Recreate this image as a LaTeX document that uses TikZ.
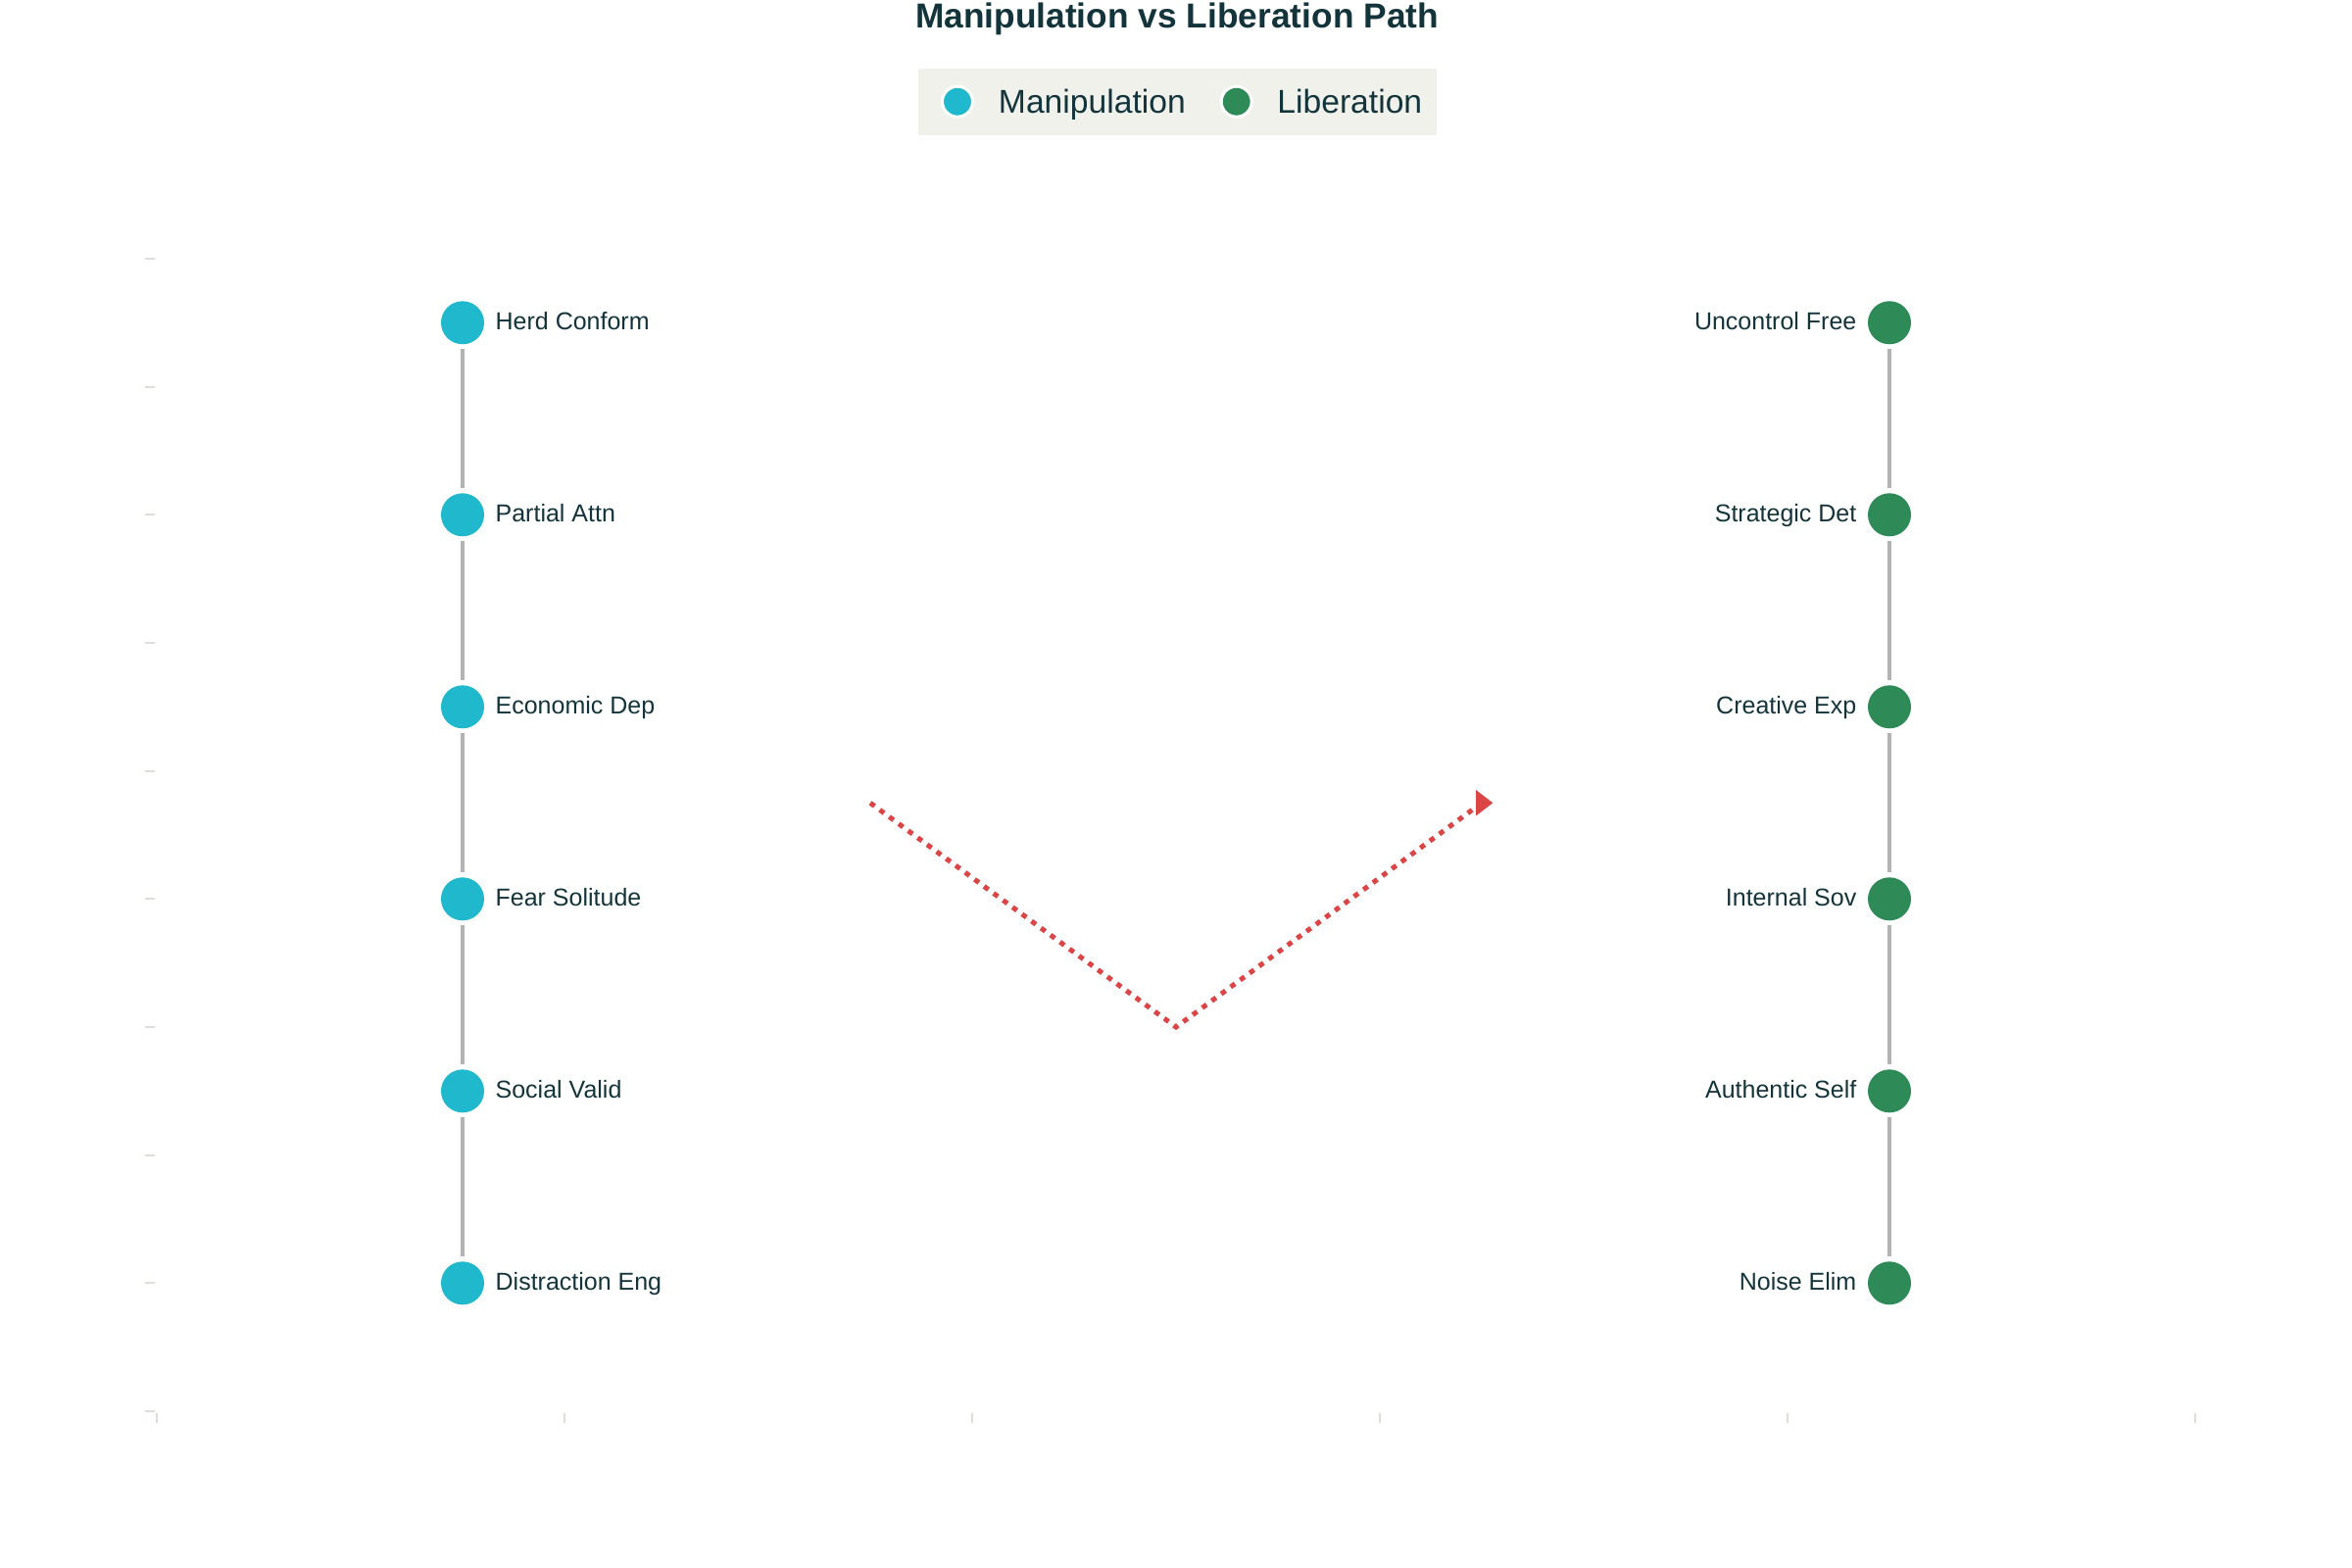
\documentclass[tikz,border=0pt]{standalone}
\usepackage{fontspec}
\setmainfont{Liberation Sans}
\definecolor{manip}{HTML}{1FB8CD}
\definecolor{libc}{HTML}{2E8B57}
\definecolor{txt}{HTML}{13343B}
\definecolor{connc}{HTML}{B3B3B3}
\definecolor{tickc}{HTML}{E0DCD8}
\definecolor{routec}{HTML}{DB4545}
\definecolor{legbg}{HTML}{F1F1EC}
\begin{document}
\begin{tikzpicture}[x=0.3pt,y=-0.3pt,
  dotm/.style={circle,fill=manip,inner sep=0pt,outer sep=0pt,minimum size=13.2pt},
  dotl/.style={circle,fill=libc,inner sep=0pt,outer sep=0pt,minimum size=13.2pt},
  legdot/.style={circle,draw=white,line width=0.9pt,inner sep=0pt,minimum size=9.3pt},
  lbl/.style={text=txt,font=\fontsize{7.5pt}{9pt}\selectfont,inner sep=0pt},
  leglbl/.style={text=txt,font=\fontsize{10.1pt}{12pt}\selectfont,inner sep=0pt,anchor=base west},
  link/.style={draw=connc,line width=1.1pt,shorten <=1.5pt,shorten >=1.5pt},
  tk/.style={draw=tickc,line width=0.6pt},
  route/.style={draw=routec,line width=1.5pt,dash pattern=on 1.65pt off 1.95pt},
]
\useasboundingbox (0,0) rectangle (2400,1600);

% axis ticks
\foreach \k in {0,...,9} \draw[tk] (148,{1440-130.67*\k}) -- (158,{1440-130.67*\k});
\foreach \k in {0,...,5} \draw[tk] ({160+416*\k},1442) -- ({160+416*\k},1452);

% title
\node[anchor=base,text=txt,font=\bfseries\fontsize{10.6pt}{12pt}\selectfont,inner sep=0pt] (title) at (1201,28.3) {Manipulation vs Liberation Path};

% legend
\node[fill=legbg,minimum width=158.7pt,minimum height=20.3pt,inner sep=0pt] (legend) at (1201.5,103.85) {};
\node[legdot,fill=manip] (lgm) at (977,103.7) {};
\node[leglbl] (lgmt) at (1018.3,116) {Manipulation};
\node[legdot,fill=libc] (lgl) at (1261.7,103.7) {};
\node[leglbl] (lglt) at (1302.7,116) {Liberation};

% manipulation column
\node[dotm] (m1) at (472,329.3) {};
\node[dotm] (m2) at (472,525.3) {};
\node[dotm] (m3) at (472,721.3) {};
\node[dotm] (m4) at (472,917.3) {};
\node[dotm] (m5) at (472,1113.3) {};
\node[dotm] (m6) at (472,1309.3) {};
\draw[link] (m1) -- (m2);
\draw[link] (m2) -- (m3);
\draw[link] (m3) -- (m4);
\draw[link] (m4) -- (m5);
\draw[link] (m5) -- (m6);
\node[lbl,anchor=base west] (mt1) at (505,336.8) {Herd Conform};
\node[lbl,anchor=base west] (mt2) at (505,532.8) {Partial Attn};
\node[lbl,anchor=base west] (mt3) at (505,728.8) {Economic Dep};
\node[lbl,anchor=base west] (mt4) at (505,924.8) {Fear Solitude};
\node[lbl,anchor=base west] (mt5) at (505,1120.8) {Social Valid};
\node[lbl,anchor=base west] (mt6) at (505,1316.8) {Distraction Eng};

% liberation column
\node[dotl] (l1) at (1928,329.3) {};
\node[dotl] (l2) at (1928,525.3) {};
\node[dotl] (l3) at (1928,721.3) {};
\node[dotl] (l4) at (1928,917.3) {};
\node[dotl] (l5) at (1928,1113.3) {};
\node[dotl] (l6) at (1928,1309.3) {};
\draw[link] (l1) -- (l2);
\draw[link] (l2) -- (l3);
\draw[link] (l3) -- (l4);
\draw[link] (l4) -- (l5);
\draw[link] (l5) -- (l6);
\node[lbl,anchor=base east] (lt1) at (1895,336.8) {Uncontrol Free};
\node[lbl,anchor=base east] (lt2) at (1895,532.8) {Strategic Det};
\node[lbl,anchor=base east] (lt3) at (1895,728.8) {Creative Exp};
\node[lbl,anchor=base east] (lt4) at (1895,924.8) {Internal Sov};
\node[lbl,anchor=base east] (lt5) at (1895,1120.8) {Authentic Self};
\node[lbl,anchor=base east] (lt6) at (1895,1316.8) {Noise Elim};

% transition path
\coordinate (a1) at (888,819.3);
\coordinate (a2) at (1200,1048);
\coordinate (a3) at (1512,819.3);
\draw[route] (a1) -- (a2) -- (a3);
\fill[routec] (a3) ++(-6,-13.3) -- ++(17.3,13.3) -- ++(-17.3,13.3) -- cycle;
\end{tikzpicture}
\end{document}
